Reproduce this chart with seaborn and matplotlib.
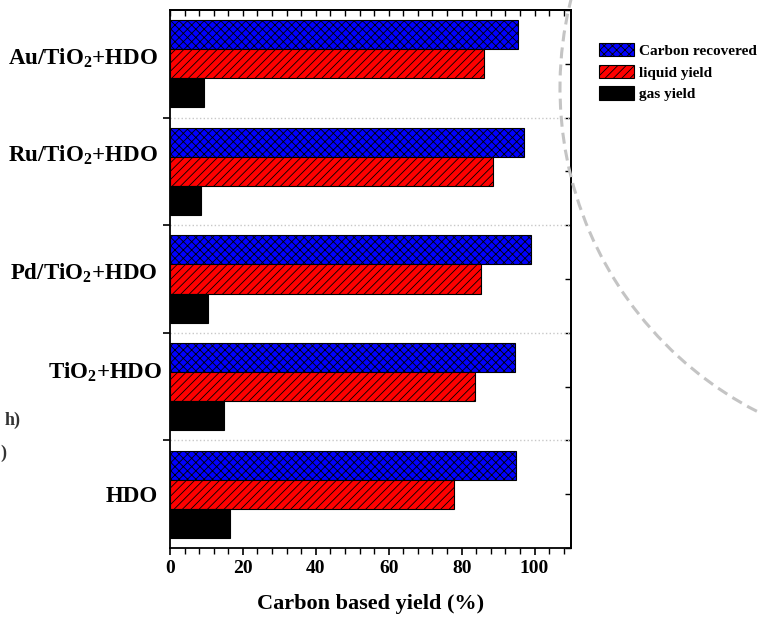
import matplotlib
matplotlib.use("Agg")

import pandas as pd
import matplotlib.pyplot as plt
import seaborn as sns
from matplotlib.patches import Patch, Arc
from matplotlib.ticker import MultipleLocator, FixedLocator, NullFormatter
from matplotlib.transforms import ScaledTranslation


CATEGORIES = [
    r"Au/TiO$_2$+HDO",
    r"Ru/TiO$_2$+HDO",
    r"Pd/TiO$_2$+HDO",
    r"TiO$_2$+HDO",
    "HDO",
]
SERIES = ["Carbon recovered", "liquid yield", "gas yield"]

CARBON_RECOVERED = [95.5, 97.1, 98.9, 94.6, 94.8]
LIQUID_YIELD = [86.0, 88.7, 85.2, 83.7, 78.0]
GAS_YIELD = [9.3, 8.5, 10.5, 14.8, 16.4]

X_TICKS = [0, 20, 40, 60, 80, 100]

FACE_COLORS = ["#0000ff", "#ff0000", "#000000"]
HATCHES = ["xxxx", "////", ""]

# the category labels in the source sit a bit off their group centres (pixels)
LABEL_SHIFT_X = [0, 0, 0, 5, 0]
LABEL_SHIFT_Y = [8, 19, 8, 17, 0]


def build_frame():
    rows = []
    for name, values in zip(SERIES, [CARBON_RECOVERED, LIQUID_YIELD, GAS_YIELD]):
        for cat, v in zip(CATEGORIES, values):
            rows.append({"catalyst": cat, "series": name, "yield": v})
    return pd.DataFrame(rows)


def main():
    sns.set_style("ticks")
    plt.rcParams["font.family"] = ["Liberation Serif", "DejaVu Serif"]
    plt.rcParams["font.weight"] = "bold"
    plt.rcParams["mathtext.fontset"] = "custom"
    plt.rcParams["mathtext.rm"] = "Liberation Serif:bold"
    plt.rcParams["mathtext.it"] = "Liberation Serif:bold"
    plt.rcParams["mathtext.bf"] = "Liberation Serif:bold"
    plt.rcParams["mathtext.default"] = "rm"
    plt.rcParams["hatch.linewidth"] = 0.6
    for key in ["text.color", "axes.labelcolor", "xtick.color", "ytick.color"]:
        plt.rcParams[key] = "black"

    df = build_frame()

    fig = plt.figure(figsize=(7.6, 6.21), dpi=100)
    ax = fig.add_axes([0.2237, 0.1176, 0.5276, 0.8663])

    sns.barplot(
        data=df, x="yield", y="catalyst", hue="series",
        order=CATEGORIES, hue_order=SERIES,
        orient="h", width=0.81, ax=ax, legend=False,
    )

    # style each series: face colour + hatch
    for cont, fc, hatch in zip(ax.containers, FACE_COLORS, HATCHES):
        for bar in cont:
            bar.set_facecolor(fc)
            bar.set_edgecolor("black")
            bar.set_linewidth(0.8)
            bar.set_hatch(hatch)

    n = len(CATEGORIES)
    ax.set_xlim(0, 110)
    ax.set_ylim(n - 0.5, -0.5)

    # x axis
    ax.xaxis.set_major_locator(FixedLocator(X_TICKS))
    ax.xaxis.set_minor_locator(MultipleLocator(4))
    ax.tick_params(axis="x", which="major", direction="out", length=5,
                   width=1.2, labelsize=14, pad=4)
    ax.tick_params(axis="x", which="minor", direction="out", length=4, width=1.0)
    ax.set_xlabel("Carbon based yield (%)", fontsize=16, fontweight="bold",
                  labelpad=12)
    ax.set_ylabel("")

    # y axis: ticks at group boundaries, labels at group centres
    ax.yaxis.set_major_locator(FixedLocator([i + 0.5 for i in range(n - 1)]))
    ax.yaxis.set_major_formatter(NullFormatter())
    ax.yaxis.set_minor_locator(FixedLocator(list(range(n))))
    ax.set_yticklabels(CATEGORIES, minor=True)
    ax.tick_params(axis="y", which="major", direction="out", length=5, width=1.2)
    ax.tick_params(axis="y", which="minor", length=0, labelsize=16.5, pad=9)
    for lbl, dx, dy in zip(ax.get_yticklabels(minor=True), LABEL_SHIFT_X, LABEL_SHIFT_Y):
        lbl.set_transform(lbl.get_transform()
                          + ScaledTranslation(dx / 100, dy / 100, fig.dpi_scale_trans))

    ax.grid(axis="y", which="major", linestyle=":", color="#c8c8c8", linewidth=1.0)
    ax.set_axisbelow(True)

    # mirrored ticks on top and right
    top = ax.secondary_xaxis("top")
    top.xaxis.set_major_locator(FixedLocator(X_TICKS))
    top.xaxis.set_minor_locator(MultipleLocator(4))
    top.tick_params(which="both", direction="in", length=4, width=1.0,
                    labeltop=False)
    right = ax.secondary_yaxis("right")
    right.yaxis.set_major_locator(FixedLocator([i * 0.5 - 0.5 for i in range(2 * n + 1)]))
    right.tick_params(which="both", direction="in", length=4, width=1.0,
                      labelright=False)

    for sp in list(ax.spines.values()) + list(top.spines.values()) + list(right.spines.values()):
        sp.set_linewidth(1.3)
        sp.set_color("black")

    handles = [
        Patch(facecolor=fc, edgecolor="black", hatch=h, linewidth=0.8, label=s)
        for fc, h, s in zip(FACE_COLORS, HATCHES, SERIES)
    ]
    fig.legend(handles=handles, loc="upper left", bbox_to_anchor=(0.78, 0.9405),
               frameon=False, prop={"size": 11, "weight": "bold"},
               handlelength=2.3, handleheight=0.95, labelspacing=0.45,
               handletextpad=0.3, borderaxespad=0)

    # leftovers from the cropped source figure
    arc = Arc((924 / 760, 1 - 88 / 621), 2 * 364 / 760, 2 * 364 / 621,
              theta1=150, theta2=255, transform=fig.transFigure,
              color="#c4c4c4", linewidth=2.2, linestyle=(0, (3.6, 2.0)),
              clip_on=False)
    fig.add_artist(arc)
    fig.text(5 / 760, 1 - 420 / 621, "h)", fontsize=13, fontweight="bold",
             color="#333333", va="center", ha="left")
    fig.text(0, 1 - 453 / 621, ")", fontsize=13, fontweight="bold",
             color="#333333", va="center", ha="left")

    fig.savefig("out.png", dpi=100, facecolor="white")


if __name__ == "__main__":
    main()
